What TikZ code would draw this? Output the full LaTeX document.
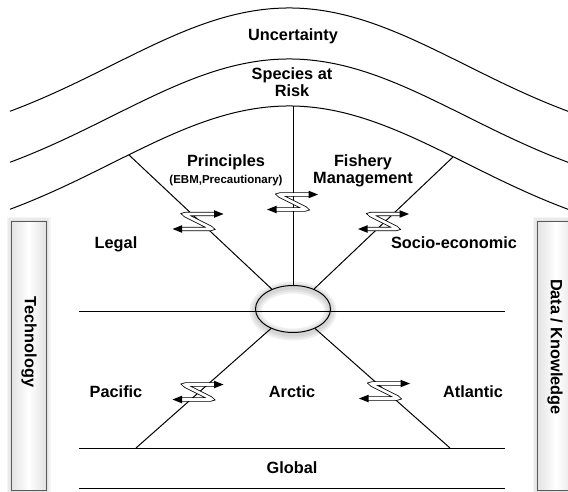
\documentclass[tikz,border=0pt]{standalone}
\usepackage{fontspec}
\setmainfont{Liberation Sans}
\usetikzlibrary{shapes.geometric}
\begin{document}
\begin{tikzpicture}[x=1pt,y=-1pt,
  lbl/.style={font=\fontsize{16.3}{17}\selectfont\bfseries, inner sep=0pt, align=center},
  sublbl/.style={font=\fontsize{11.5}{13}\selectfont\bfseries, inner sep=0pt},
  conn/.style={draw=black, line width=1pt},
  pillar/.style={draw=gray!70!black, line width=0.9pt, left color=gray!22, right color=gray!22, middle color=white},
  glow/.style={draw=gray, line width=#1, opacity=0.08},
  pics/zz/.style={code={
    \draw[line width=0.8pt, double=white, double distance=2.8pt, rounded corners=2.8pt]
      (17,-7.5) -- (-15,-7.5) -- (15,7.5) -- (-17,7.5);
    \fill (25.5,-7.5) -- (16,-11.3) -- (16,-3.7) -- cycle;
    \fill (-25.5,7.5) -- (-16,3.7) -- (-16,11.3) -- cycle;
  }}
]
\clip (0,0) rectangle (568,492);
\fill[white] (0,0) rectangle (568,492);

% arches
\draw[conn] plot[domain=10:570, samples=140, smooth] (\x, {153-145*exp(-((\x-289)/250)^2)});
\draw[conn] plot[domain=10:570, samples=140, smooth] (\x, {204-145*exp(-((\x-289)/250)^2)});
\draw[conn] plot[domain=10:570, samples=140, smooth] (\x, {251-145*exp(-((\x-289)/250)^2)});

% pillars
\foreach \w in {9,6,3}{
  \draw[glow=\w pt] (11,221) rectangle (46,490);
  \draw[glow=\w pt] (537,221) rectangle (575,490);
}
\path[pillar] (11,221) rectangle (46,490);
\path[pillar] (537,221) rectangle (575,490);

% hub
\foreach \w in {12,8,4}{
  \draw[draw=gray, line width=\w pt, opacity=0.12] (293,311) ellipse [x radius=37.5, y radius=23.5];
}
\node[ellipse, draw, line width=1pt, minimum width=75pt, minimum height=47pt, inner sep=0pt] (hub) at (293,309) {};

\coordinate (top) at (293,106);
\coordinate (ul) at (129,155);
\coordinate (ur) at (453,157);
\coordinate (ll) at (136,448);
\coordinate (lr) at (450,448);
\coordinate (ml) at (79,311);
\coordinate (mr) at (505,311);
\coordinate (gl) at (79,448);
\coordinate (gr) at (505,448);
\coordinate (bl) at (79,488);
\coordinate (br) at (505,488);

\draw[conn] (top) -- (hub);
\draw[conn] (ul) -- (hub);
\draw[conn] (ur) -- (hub);
\draw[conn] (ll) -- (hub);
\draw[conn] (lr) -- (hub);
\draw[conn] (ml) -- (mr);
\draw[conn] (gl) -- (gr);
\draw[conn] (bl) -- (br);

% zigzag exchange arrows
\pic at (292.5,202) {zz};
\pic at (198,221.5) {zz};
\pic at (383.5,221.5) {zz};
\pic at (198,392) {zz};
\pic at (384.5,391) {zz};

% labels
\node[lbl, anchor=base] (unc) at (293,41) {Uncertainty};
\node[lbl] (sar) at (292,82.5) {Species at\\Risk};
\node[lbl, anchor=base] (prin) at (226,167) {Principles};
\node[sublbl, anchor=base] (prinsub) at (226,183) {(EBM,Precautionary)};
\node[lbl] (fm) at (363,171.3) {Fishery\\Management};
\node[lbl, anchor=base] (legal) at (116,248) {Legal};
\node[lbl, anchor=base] (socio) at (454,248) {Socio-economic};
\node[lbl, anchor=base] (pac) at (116,397) {Pacific};
\node[lbl, anchor=base] (arc) at (292,397) {Arctic};
\node[lbl, anchor=base] (atl) at (473,397) {Atlantic};
\node[lbl, anchor=base] (glob) at (292,473) {Global};
\node[lbl, rotate=-90] (tech) at (29,342) {Technology};
\node[lbl, rotate=-90] (data) at (555,347) {Data / Knowledge};
\end{tikzpicture}
\end{document}
